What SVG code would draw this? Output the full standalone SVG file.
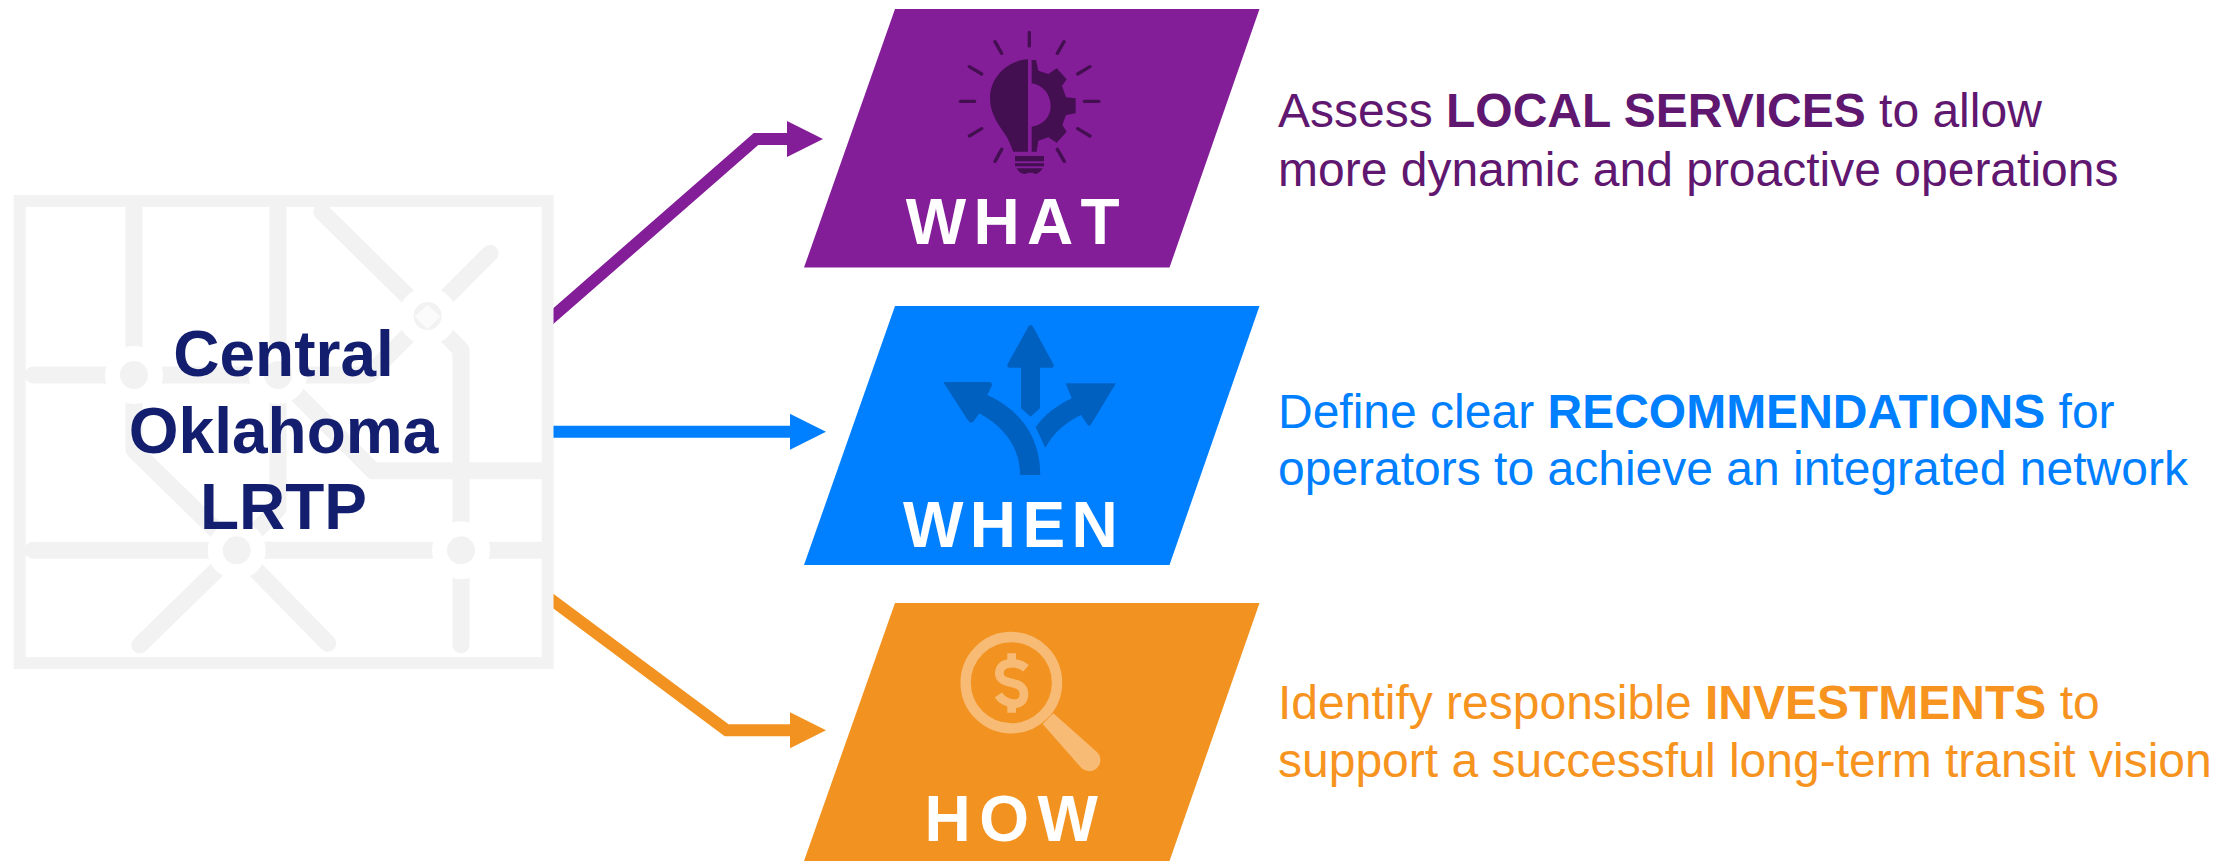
<svg xmlns="http://www.w3.org/2000/svg" width="2231" height="861" viewBox="0 0 2231 861">
<style>
text{font-family:"Liberation Sans",Arial,sans-serif}
.road{fill:none;stroke:#f2f2f2;stroke-width:17;stroke-linecap:round;stroke-linejoin:round}
.halo{fill:#fff}
.stop{fill:#f2f2f2}
.title{font-size:64px;font-weight:700;fill:#131f6e;text-anchor:middle}
.tag{font-size:64px;font-weight:700;fill:#fff;font-kerning:none}
.desc{font-size:48px}
.desc tspan{font-weight:700}
.conn{fill:none;stroke-width:12;stroke-linejoin:miter}
.ray{fill:none;stroke:#430f50;stroke-width:10;stroke-linecap:round}
</style>
<defs>
<clipPath id="right"><rect x="553.5" y="0" width="400" height="861"/></clipPath>
<marker id="hp" markerUnits="userSpaceOnUse" markerWidth="36" markerHeight="36" refX="0" refY="18" orient="auto"><path d="M0,0L36,18L0,36Z" fill="#831e98"/></marker>
<marker id="hb" markerUnits="userSpaceOnUse" markerWidth="36" markerHeight="36" refX="0" refY="18" orient="auto"><path d="M0,0L36,18L0,36Z" fill="#0080ff"/></marker>
<marker id="ho" markerUnits="userSpaceOnUse" markerWidth="36" markerHeight="36" refX="0" refY="18" orient="auto"><path d="M0,0L36,18L0,36Z" fill="#f29321"/></marker>
</defs>
<rect width="2231" height="861" fill="#fff"/>
<g id="central-lrtp">
<rect x="19.7" y="201" width="528" height="462" fill="#fff" stroke="#f2f2f2" stroke-width="12"/>
<g class="road">
<path d="M134,205V450L236.7,550.3"/>
<path d="M278,205V509L236.7,550.3"/>
<path d="M33,375H368.6L427.6,316"/>
<path d="M545,470.7H373L278,375"/>
<path d="M321.8,211.7L427.6,316L490,253.3"/>
<path d="M427.6,316L461,350V645"/>
<path d="M33,550.3H545"/>
<path d="M139.8,645L236.7,550.3L327.7,643.3"/>
</g>
<circle class="halo" cx="134" cy="375" r="29"/><circle class="stop" cx="134" cy="375" r="14"/>
<circle class="halo" cx="278" cy="375" r="29"/><circle class="stop" cx="278" cy="375" r="14"/>
<circle class="halo" cx="236.7" cy="550.3" r="29"/><circle class="stop" cx="236.7" cy="550.3" r="14"/>
<circle class="halo" cx="461" cy="550.3" r="29"/><circle class="stop" cx="461" cy="550.3" r="14"/>
<circle class="halo" cx="427.6" cy="316" r="29"/><circle class="stop" cx="427.6" cy="316" r="14"/>
<path d="M427.6,305L440.5,316.5L427.6,329L414.7,316.5Z" fill="#fbfbfb"/>
<text class="title" x="283.5" y="376">Central</text>
<text class="title" x="283.5" y="452.7">Oklahoma</text>
<text class="title" x="283.5" y="529.3">LRTP</text>
</g>
<g id="connectors" clip-path="url(#right)">
<path class="conn" stroke="#831e98" d="M543.5,324.7L756,139H787" marker-end="url(#hp)"/>
<path class="conn" stroke="#0080ff" d="M543.5,431.8H790" marker-end="url(#hb)"/>
<path class="conn" stroke="#f29321" d="M543.5,593.8L726.7,730.3H790" marker-end="url(#ho)"/>
</g>
<g id="what">
<path d="M804,267.6L895,9H1259.5L1169.5,267.6Z" fill="#831e98"/>
<g transform="translate(900,0) scale(.33333)">
<path fill="#430f50" d="M384,178C320,182 270,232 270,295C270,345 300,380 320,410C330,428 335,445 340,455H384Z"/>
<path fill="#430f50" d="M395,180H408L415,212L445,222L470,205L500,238L486,258L498,292L527,295V340L498,345L487,375L500,395L470,428L445,412L415,422L410,455H395V380C430,375 452,350 452,318C452,285 430,255 395,250Z"/>
<path fill="#430f50" d="M345,468H432V484H345ZM345,490H432V499H345ZM350,505H428C422,515 415,522 405,522L398,518L385,518L375,522C362,522 356,515 350,505Z"/>
<path class="ray" d="M388,97V138M285,125L305,160M492,125L472,160M208,200L245,222M570,200L533,222M181,304H224M553,304H597M208,408L245,386M570,408L533,386M305,448L285,484M472,448L493,484"/>
</g>
<text class="tag" x="905.7" y="244.3" letter-spacing="7.3">WHAT</text>
<text class="desc" x="1278" y="127.3" fill="#601770">Assess <tspan>LOCAL SERVICES</tspan> to allow</text>
<text class="desc" x="1278" y="186" fill="#601770">more dynamic and proactive operations</text>
</g>
<g id="when">
<path d="M804,565L895,306H1259.5L1169.5,565Z" fill="#0080ff"/>
<g transform="translate(900,300) scale(.33333)" fill="#0060c0">
<path d="M392,75Q397,75 400,82L460,192Q464,203 455,203H420V325L392,350L363,325V203H328Q319,203 323,192L384,82Q387,75 392,75Z"/>
<path d="M132,250Q130,246 136,246L270,246Q278,248 275,258L262,285C350,325 421,400 421,525H360C360,440 310,380 238,340L220,365Q212,372 205,363Z"/>
<path d="M497,250H648L572,375Q568,380 563,375L543,345C495,368 460,400 436,443L407,382C435,340 475,315 515,295Z"/>
</g>
<text class="tag" x="903" y="546.7" letter-spacing="6.4">WHEN</text>
<text class="desc" x="1278" y="427.6" fill="#0080ff">Define clear <tspan>RECOMMENDATIONS</tspan> for</text>
<text class="desc" x="1278" y="484.8" fill="#0080ff">operators to achieve an integrated network</text>
</g>
<g id="how">
<path d="M804,861L895,603H1259.5L1169.5,861Z" fill="#f29321"/>
<g transform="translate(900,610) scale(.33333)">
<circle cx="334" cy="218" r="137" fill="none" stroke="#f7bb75" stroke-width="31"/>
<path fill="#f7bb75" d="M460,310L590,425A33,33 0 0 1 545,475L428,342Z"/>
<path fill="none" stroke="#f7bb75" stroke-width="26" d="M378,175C355,155 298,150 298,190C298,230 372,205 372,252C372,295 315,285 295,255"/>
<path fill="#f7bb75" d="M322,130H348V155H322ZM322,285H348V308H322Z"/>
</g>
<text class="tag" x="924.6" y="841" letter-spacing="8.5">HOW</text>
<text class="desc" x="1278" y="719.3" fill="#f6941f">Identify responsible <tspan>INVESTMENTS</tspan> to</text>
<text class="desc" x="1278" y="776.7" fill="#f6941f">support a successful long-term transit vision</text>
</g>
</svg>
